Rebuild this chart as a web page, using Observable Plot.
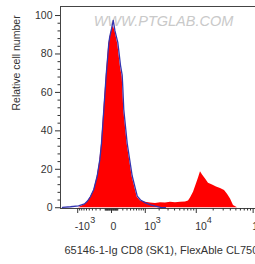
<!DOCTYPE html>
<html><head><meta charset="utf-8">
<script src="https://cdn.jsdelivr.net/npm/d3@7"></script>
<script src="https://cdn.jsdelivr.net/npm/@observablehq/plot@0.6"></script>
<style>
html,body{margin:0;padding:0;background:#fff;overflow:hidden;width:255px;height:264px;}
#chart svg{max-width:none;display:block;}
</style></head><body><div id="chart"></div>
<script>
// Sample histogram (red, filled)
const redX = [-958,-811,-679,-563,-460,-360,-270,-208,-172,-126,-83,-40,-25,0,25,52,100,152,186,199,222,305,450,629,765,1011,1313,1680,2130,2676,3346,4164,5163,6377,7235,7868,8915,10095,10965,11906,12929,14623,16513,19442,22869,26900,31630,35670,40280,45430,53375];
const redY = [0,0.8,1.5,3,5.4,9,16,24.5,33,50.5,68,85,88,92,94.5,92,85,73,68,62.5,50.5,33,16,5.5,3.5,2.8,2.5,2.2,2.6,2.5,2.8,2.6,2.8,3,3.5,5,8,12.5,15.5,18.7,17,15,12.8,11.8,10.8,10,9,7,4.5,1.2,0];
// Control histogram (blue outline)
const blueX = [-2130,-1451,-958,-679,-563,-460,-360,-270,-208,-172,-126,-83,-40,-25,0,25,52,100,152,186,199,222,305,450,629,765,1011,1313,1680,2130,2676];
const blueY = [0.2,0.5,1,2,3.5,5.8,9.5,16.5,25,33.5,51,69,85.5,89,93,97.5,92,86,74,69,63,51,33.5,16.5,6,4,2.5,1.5,0.8,0.2,0];
// Axis ticks
const yTicks = [0,20,40,60,80,100];
const yMinor = [4,8,12,16,24,28,32,36,44,48,52,56,64,68,72,76,84,88,92,96];
const xMajor = [-1000,0,1000,10000,100000];
const xBase = ["-10","0","10","10","10"];
const xExp = ["3","","3","4","5"];
const xMinor = [-900,-800,-700,-600,-500,-400,-300,-200,-100,-90,-80,-70,-60,-50,-40,-30,-20,-10,10,20,30,40,50,60,70,80,90,100,200,300,400,500,600,700,800,900,2000,3000,4000,5000,6000,7000,8000,9000,20000,30000,40000,50000,60000,70000,80000,90000];
const xLabel = "65146-1-Ig CD8 (SK1), FlexAble CL750";
const yLabel = "Relative cell number";
const watermark = "WWW.PTGLAB.COM";

const red = redX.map((x,i)=>({x, y: redY[i]}));
const blue = blueX.map((x,i)=>({x, y: blueY[i]}));
const xt = xMajor.map((v,i)=>({v, base: xBase[i], exp: xExp[i]}));

const font = "'Liberation Sans', Arial, sans-serif";
const plot = Plot.plot({
  width: 258, height: 264,
  marginLeft: 60, marginRight: 0, marginTop: 6, marginBottom: 56,
  style: {fontFamily: font, fontSize: "10.5px", color: "#333", background: "#fff"},
  x: {type: "symlog", constant: 350, domain: [-2335, 124000], axis: null},
  y: {domain: [-0.4, 104.7], axis: null},
  marks: [
    Plot.text([watermark], {frameAnchor: "top", dx: 4, dy: 19.5, lineAnchor: "bottom", fill: "#c9c9c9", fontSize: 14.5, fontStyle: "italic"}),
    Plot.areaY(red, {x: "x", y: "y", fill: "#ff0000", curve: "linear"}),
    Plot.lineY(blue, {x: "x", y: "y", stroke: "#3434b0", strokeWidth: 1.3, curve: "linear"}),
    Plot.frame({stroke: "#444"}),
    Plot.axisY({ticks: yTicks, tickSize: 5, tickPadding: 3, label: null, fontSize: 10.5}),
    Plot.axisY({ticks: yMinor, tickSize: 2.5, tickFormat: () => "", label: null}),
    Plot.axisX({ticks: xMajor, tickSize: 5, tickFormat: () => "", label: null}),
    Plot.axisX({ticks: xMinor, tickSize: 2.5, tickFormat: () => "", label: null}),
    Plot.text(xt, {filter: d => d.v >= 0, x: "v", text: "base", frameAnchor: "bottom", textAnchor: "start", dx: -1, dy: 21, lineAnchor: "bottom", fontSize: 10.5, fill: "#333"}),
    Plot.text(xt, {filter: d => d.v < 0, x: "v", text: "base", frameAnchor: "bottom", textAnchor: "start", dx: -3, dy: 21, lineAnchor: "bottom", fontSize: 10.5, fill: "#333"}),
    Plot.text(xt, {filter: d => d.v > 0, x: "v", text: "exp", frameAnchor: "bottom", textAnchor: "start", dx: 10.5, dy: 14, lineAnchor: "bottom", fontSize: 9, fill: "#333"}),
    Plot.text(xt, {filter: d => d.v < 0, x: "v", text: "exp", frameAnchor: "bottom", textAnchor: "start", dx: 12.5, dy: 14, lineAnchor: "bottom", fontSize: 9, fill: "#333"}),
    Plot.text([xLabel], {frameAnchor: "bottom-left", textAnchor: "start", dx: 4, dy: 45, lineAnchor: "bottom", fontSize: 11, fill: "#333"}),
    Plot.text([yLabel], {frameAnchor: "left", rotate: -90, dx: -44, dy: 3, fontSize: 10.5, fill: "#333"})
  ]
});
document.getElementById("chart").appendChild(plot);
</script></body></html>
